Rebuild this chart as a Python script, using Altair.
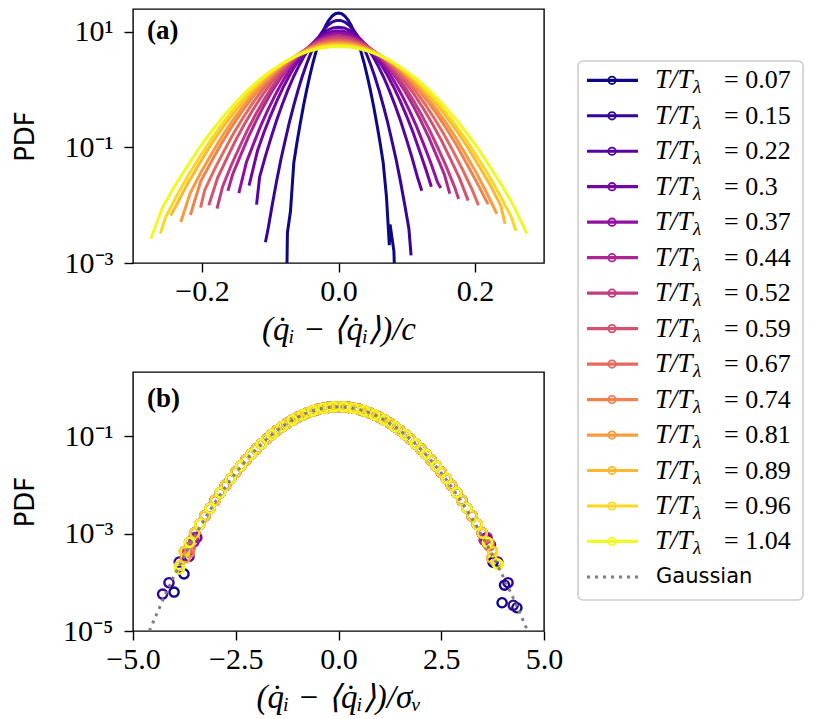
import altair as alt
import pandas as pd

# ---------------- data ----------------
T_labels = ["0.07", "0.15", "0.22", "0.3", "0.37", "0.44", "0.52",
            "0.59", "0.67", "0.74", "0.81", "0.89", "0.96", "1.04"]
line_colors = ["#0d0887", "#350498", "#5702a3", "#7504a7", "#920fa2", "#ac2693", "#c23c81",
               "#d45270", "#e4695f", "#f1814d", "#f99b3d", "#fcb82e", "#f9d824", "#f0f921"]

# width (std) of each raw PDF in panel (a)
sigma = [0.0187, 0.025, 0.033, 0.038, 0.0415, 0.046, 0.0485,
         0.0525, 0.056, 0.0598, 0.062, 0.0655, 0.0675, 0.071]

# last data points of each curve in panel (a): x and log10(PDF)
lo_x = [-0.0703, -0.107, -0.120, -0.131, -0.146, -0.162, -0.178,
        -0.190, -0.202, -0.217, -0.231, -0.246, -0.261, -0.275]
lo_log = [-2.10, -2.64, -1.99, -1.66, -1.79, -1.75, -2.06,
          -2.00, -2.04, -2.17, -2.29, -2.18, -2.49, -2.58]
hi_x = [0.0703, 0.1063, 0.122, 0.136, 0.150, 0.163, 0.176,
        0.190, 0.205, 0.219, 0.232, 0.244, 0.260, 0.276]
hi_log = [-1.86, -2.87, -1.75, -1.68, -1.70, -1.80, -1.89,
          -1.92, -2.00, -1.98, -2.15, -2.32, -2.44, -2.49]

# collapsed (standardised) PDF
z_grid = [-4.5, -4.375, -4.25, -4.125, -4.0, -3.875, -3.75, -3.625, -3.5, -3.375,
          -3.25, -3.125, -3.0, -2.875, -2.75, -2.625, -2.5, -2.375, -2.25, -2.125,
          -2.0, -1.875, -1.75, -1.625, -1.5, -1.375, -1.25, -1.125, -1.0, -0.875,
          -0.75, -0.625, -0.5, -0.375, -0.25, -0.125, 0.0, 0.125, 0.25, 0.375,
          0.5, 0.625, 0.75, 0.875, 1.0, 1.125, 1.25, 1.375, 1.5, 1.625,
          1.75, 1.875, 2.0, 2.125, 2.25, 2.375, 2.5, 2.625, 2.75, 2.875,
          3.0, 3.125, 3.25, 3.375, 3.5, 3.625, 3.75, 3.875, 4.0, 4.125,
          4.25, 4.375, 4.5]
collapse_pdf = [1.8e-5, 3.3e-5, 5.8e-5, 9.8e-5, 1.65e-4, 2.6e-4, 4.2e-4, 6.6e-4, 1.02e-3, 1.55e-3,
                2.3e-3, 3.3e-3, 4.8e-3, 6.9e-3, 9.7e-3, 0.0133, 0.0182, 0.0244, 0.0325, 0.0424,
                0.0548, 0.0690, 0.087, 0.107, 0.130, 0.155, 0.183, 0.212, 0.242, 0.272,
                0.301, 0.328, 0.352, 0.372, 0.387, 0.396, 0.399, 0.396, 0.387, 0.372,
                0.352, 0.328, 0.301, 0.272, 0.242, 0.212, 0.183, 0.155, 0.130, 0.107,
                0.087, 0.0690, 0.0548, 0.0424, 0.0325, 0.0244, 0.0182, 0.0133, 0.0097, 6.9e-3,
                4.8e-3, 3.3e-3, 2.3e-3, 1.55e-3, 1.02e-3, 6.6e-4, 4.2e-4, 2.6e-4, 1.65e-4, 9.8e-5,
                5.8e-5, 3.3e-5, 1.8e-5]

# outer points of the T/T_lambda = 0.07 series in panel (b)
navy_tail_z = [-4.0, 3.98, 4.04, 4.34]
navy_tail_pdf = [6.3e-5, 3.8e-5, 8.7e-5, 3.0e-5]
# where that curve falls off the bottom of panel (a)
navy_cut_x = [-0.0767, 0.0843]
navy_cut_pdf = [1e-4, 1e-4]

# Gaussian reference (half, mirrored)
gauss_half_z = [0.0, 0.2, 0.4, 0.6, 0.8, 1.0, 1.2, 1.4, 1.6, 1.8, 2.0, 2.2, 2.4,
                2.6, 2.8, 3.0, 3.2, 3.4, 3.6, 3.8, 4.0, 4.2, 4.4, 4.6]
gauss_half_pdf = [0.3989, 0.3910, 0.3683, 0.3332, 0.2897, 0.2420, 0.1942, 0.1497,
                  0.1109, 0.0790, 0.0540, 0.03547, 0.02239, 0.01358, 0.007915,
                  0.004432, 0.002384, 0.001232, 0.000612, 0.000292, 0.0001338,
                  5.89e-5, 2.49e-5, 1.01e-5]

# ---------------- tables ----------------
rows_a, rows_b = [], []
for i, lab in enumerate(T_labels):
    s = sigma[i]
    zl, zh = lo_x[i] / s, hi_x[i] / s
    pts = [(zl, 10 ** lo_log[i] * s), (zh, 10 ** hi_log[i] * s)]
    pts += [(z, p) for k, (z, p) in enumerate(zip(z_grid, collapse_pdf))
            if (k + i) % 2 == 0 and zl + 0.08 < z < zh - 0.08]
    if i == 0:
        pts += list(zip(navy_tail_z, navy_tail_pdf))
        pts += [(x / s, p * s) for x, p in zip(navy_cut_x, navy_cut_pdf)]
    pts.sort()
    for z, p in pts:
        rows_b.append({"series": lab, "z": z, "pdf": p})
        rows_a.append({"series": lab, "x": z * s, "pdf": p / s})
df_a = pd.DataFrame(rows_a)
df_b = pd.DataFrame(rows_b)

gz = [-v for v in gauss_half_z[::-1]] + gauss_half_z[1:]
gp = gauss_half_pdf[::-1] + gauss_half_pdf[1:]
df_g = pd.DataFrame({"z": gz, "pdf": gp})

# ---------------- styling helpers ----------------
SERIF = "Liberation Serif"
SANS = "DejaVu Sans"
log_labels = ("datum.value > 5 ? '10\u00b9' : datum.value > 0.05 ? '10\u207b\u00b9' : "
              "datum.value > 5e-4 ? '10\u207b\u00b3' : '10\u207b\u2075'")
frame = alt.ViewBackground(stroke="black", strokeWidth=1.4, fill="white")
color_enc = alt.Color("series:N", scale=alt.Scale(domain=T_labels, range=line_colors), legend=None)


def yaxis(vals):
    return alt.Axis(values=vals, labelExpr=log_labels, title="PDF", titleFont=SANS,
                    titleFontSize=26, titleFontWeight="normal", titlePadding=17,
                    labelPadding=11, minExtent=78, maxExtent=78)


def xaxis(vals, title):
    return alt.Axis(values=vals, format=".1f", title=title, titleFont=SERIF,
                    titleFontStyle="italic", titleFontSize=33, titleFontWeight="normal",
                    labelPadding=4, titlePadding=7, labelFlush=False)


# ---------------- panel (a) ----------------
lines_a = alt.Chart(df_a).mark_line(strokeWidth=3, clip=True).encode(
    x=alt.X("x:Q", scale=alt.Scale(domain=[-0.301, 0.301], nice=False, zero=False),
            axis=xaxis([-0.2, 0.0, 0.2], "(q\u0307\u1d62 \u2212 \u27e8q\u0307\u1d62\u27e9)/c")),
    y=alt.Y("pdf:Q", scale=alt.Scale(type="log", domain=[1e-3, 25], nice=False),
            axis=yaxis([1e-3, 1e-1, 10])),
    color=color_enc,
)
tag_a = alt.Chart(pd.DataFrame({"t": ["(a)"]})).mark_text(
    font=SERIF, fontSize=27, fontWeight="bold", align="left", baseline="middle", color="black"
).encode(text="t:N", x=alt.value(14), y=alt.value(22))
panel_a = alt.layer(lines_a, tag_a).properties(width=411, height=254, view=frame)

# ---------------- panel (b) ----------------
pts_b = alt.Chart(df_b).mark_point(filled=False, size=85, strokeWidth=2.4, opacity=1,
                                   clip=True).encode(
    x=alt.X("z:Q", scale=alt.Scale(domain=[-5, 5], nice=False, zero=False),
            axis=xaxis([-5, -2.5, 0, 2.5, 5], "(q\u0307\u1d62 \u2212 \u27e8q\u0307\u1d62\u27e9)/\u03c3\u1d65")),
    y=alt.Y("pdf:Q", scale=alt.Scale(type="log", domain=[1e-5, 2.06], nice=False),
            axis=yaxis([1e-5, 1e-3, 1e-1])),
    color=color_enc,
)
gauss_b = alt.Chart(df_g).mark_line(color="#808080", strokeWidth=3, strokeDash=[3, 5],
                                    strokeCap="butt", clip=True).encode(x="z:Q", y="pdf:Q")
tag_b = alt.Chart(pd.DataFrame({"t": ["(b)"]})).mark_text(
    font=SERIF, fontSize=27, fontWeight="bold", align="left", baseline="middle", color="black"
).encode(text="t:N", x=alt.value(14), y=alt.value(27))
panel_b = alt.layer(pts_b, gauss_b, tag_b).properties(width=411, height=259, view=frame)

# ---------------- legend ----------------
entries = T_labels + ["Gaussian"]
leg_df = pd.DataFrame({
    "row": list(range(len(entries))),
    "series": entries,
    "val": ["= " + t for t in T_labels] + [""],
})
leg_series = leg_df[leg_df["series"] != "Gaussian"]
leg_gauss = leg_df[leg_df["series"] == "Gaussian"]
ly = alt.Y("row:Q", scale=alt.Scale(domain=[-0.544, 14.65], reverse=True, nice=False, zero=False),
           axis=None)
leg_color = alt.Color("series:N", scale=alt.Scale(domain=T_labels, range=line_colors), legend=None)

l_rule = alt.Chart(leg_series).mark_rule(strokeWidth=3.2).encode(
    x=alt.value(9), x2=alt.value(60), y=ly, color=leg_color)
l_pt = alt.Chart(leg_series).mark_point(filled=False, size=55, strokeWidth=1.8, opacity=1).encode(
    x=alt.value(34), y=ly, color=leg_color)
l_t1 = alt.Chart(leg_series).mark_text(font=SERIF, fontStyle="italic", fontSize=27,
                                       align="left", baseline="middle", color="black").encode(
    x=alt.value(77), y=ly, text=alt.value("T/T"))
l_t2 = alt.Chart(leg_series).mark_text(font=SERIF, fontStyle="italic", fontSize=19, dy=7,
                                       align="left", baseline="middle", color="black").encode(
    x=alt.value(115), y=ly, text=alt.value("\u03bb"))
l_t3 = alt.Chart(leg_series).mark_text(font=SERIF, fontSize=26, align="left",
                                       baseline="middle", color="black").encode(
    x=alt.value(146), y=ly, text="val:N")
g_rule = alt.Chart(leg_gauss).mark_rule(strokeWidth=3, color="#808080", strokeDash=[3, 5],
                                        strokeCap="butt").encode(
    x=alt.value(9), x2=alt.value(60), y=ly)
g_txt = alt.Chart(leg_gauss).mark_text(font=SANS, fontSize=21, align="left",
                                       baseline="middle", color="black").encode(
    x=alt.value(78), y=ly, text="series:N")
legend = alt.layer(l_rule, l_pt, l_t1, l_t2, l_t3, g_rule, g_txt).properties(
    width=225, height=539,
    view=alt.ViewBackground(stroke="#cccccc", strokeWidth=1.6, cornerRadius=5, fill="white"))

spacer = alt.Chart(pd.DataFrame({"a": [0]})).mark_point(opacity=0, size=4).encode(
    x=alt.value(100), y=alt.value(25)).properties(
    width=225, height=51, view=alt.ViewBackground(strokeOpacity=0))
legend_col = alt.vconcat(spacer, legend, spacing=0)

left = alt.vconcat(panel_a, panel_b, spacing=24)
chart = alt.hconcat(left, legend_col, spacing=13).properties(
    padding={"left": 3, "top": 0, "right": 5, "bottom": 0}
).configure_axis(
    domain=False, grid=False, ticks=True, tickColor="black", tickWidth=1.4, tickSize=9,
    labelFont=SERIF, labelFontSize=30, labelColor="black", titleColor="black",
).configure_view(stroke="black")

chart.save("out.html", embed_options={"renderer": "svg", "actions": False})
